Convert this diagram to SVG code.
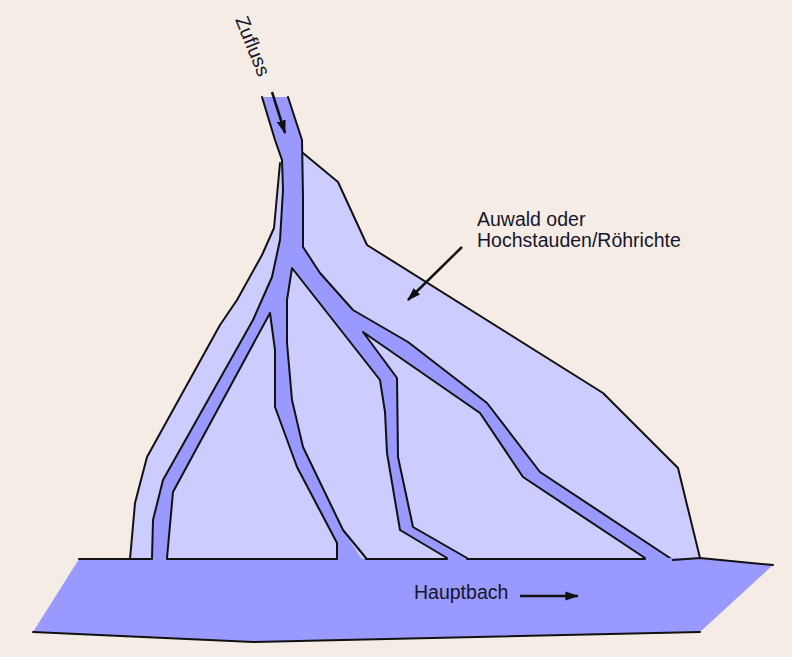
<svg xmlns="http://www.w3.org/2000/svg" width="792" height="657" viewBox="0 0 792 657">
  <style>
    .ln { fill: none; stroke: #111; stroke-width: 2; stroke-linejoin: round; stroke-linecap: round; }
    .txt { font-family: "Liberation Sans", Arial, sans-serif; font-size: 19.5px; fill: #15152a; }
    .arr { fill: none; stroke: #111; stroke-width: 2.5; marker-end: url(#ah); }
  </style>
  <defs>
    <marker id="ah" viewBox="0 0 12 8" refX="11" refY="4" markerWidth="5.5" markerHeight="3.7" markerUnits="strokeWidth" orient="auto">
      <path d="M0,0 L12,4 L0,8 Z" fill="#111"/>
    </marker>
  </defs>
  <rect width="792" height="657" fill="#F5EDE5"/>

  <g id="auwald">
    <polygon fill="#CCCCFF" points="280,163 274,228 262,255 237,300 220,325 147,457 135,503 130,559 700,559 678,468 603,393 367,245 338,182 303,153"/>
    <polyline class="ln" points="280,163 274,228 262,255 237,300 220,325 147,457 135,503 130,559"/>
    <polyline class="ln" points="303,153 338,182 367,245 603,393 678,468 700,558"/>
  </g>

  <g id="gewaesser">
    <polygon fill="#9999FF" points="262,97 275,140 282,160 283,190 280,240 272,277 253,320 163,480 153,520 152,566 167,566 167,558 173,492 270,313 275,350 275,407 297,467 337,543 337,566 366,566 343,530 303,447 292,400 287,343 287,300 292,268 380,380 385,412 387,453 400,530 447,558 450,566 470,566 467,558 413,527 398,457 397,378 363,332 480,413 523,477 645,558 645,566 676,566 673,560 540,472 487,403 408,342 353,310 320,273 303,247 303,197 302,140 288,97"/>
  </g>

  <g id="connectors">
    <polyline class="ln" points="262,97 275,140 282,160 283,190 280,240 272,277 253,320 163,480 153,520 152,558"/>
    <polyline class="ln" points="167,558 173,492 270,313 275,350 275,407 297,467 337,543 337,558"/>
    <polyline class="ln" points="366,558 343,530 303,447 292,400 287,343 287,300 292,268 380,380 385,412 387,453 400,530 447,558"/>
    <polyline class="ln" points="467,558 413,527 398,457 397,378 363,332 480,413 523,477 645,558"/>
    <polyline class="ln" points="673,560 540,472 487,403 408,342 353,310 320,273 303,247 303,197 302,140 288,97"/>
  </g>

  <g id="hauptbach">
    <polygon fill="#9999FF" points="79,559 700,558 773,565 700,632 253,642 33,632"/>
    <line class="ln" x1="79" y1="559" x2="152" y2="559"/>
    <line class="ln" x1="167" y1="559" x2="337" y2="559"/>
    <line class="ln" x1="366" y1="559" x2="447" y2="559"/>
    <line class="ln" x1="467" y1="559" x2="645" y2="559"/>
    <polyline class="ln" points="673,560 700,558 773,565"/>
    <polyline class="ln" points="33,632 253,642 700,632"/>
    <text class="txt" x="414" y="599">Hauptbach</text>
    <line class="arr" x1="520" y1="596" x2="578" y2="596"/>
  </g>

  <g id="zufluss">
    <text class="txt" transform="translate(253,46) rotate(68)" text-anchor="middle" dy="0.35em">Zufluss</text>
    <line class="arr" x1="272" y1="92" x2="285" y2="133"/>
  </g>

  <g id="label-auwald">
    <text class="txt" x="477" y="226">Auwald oder</text>
    <text class="txt" x="477" y="247">Hochstauden/Röhrichte</text>
    <line class="arr" x1="462" y1="247" x2="408" y2="300"/>
  </g>
</svg>
